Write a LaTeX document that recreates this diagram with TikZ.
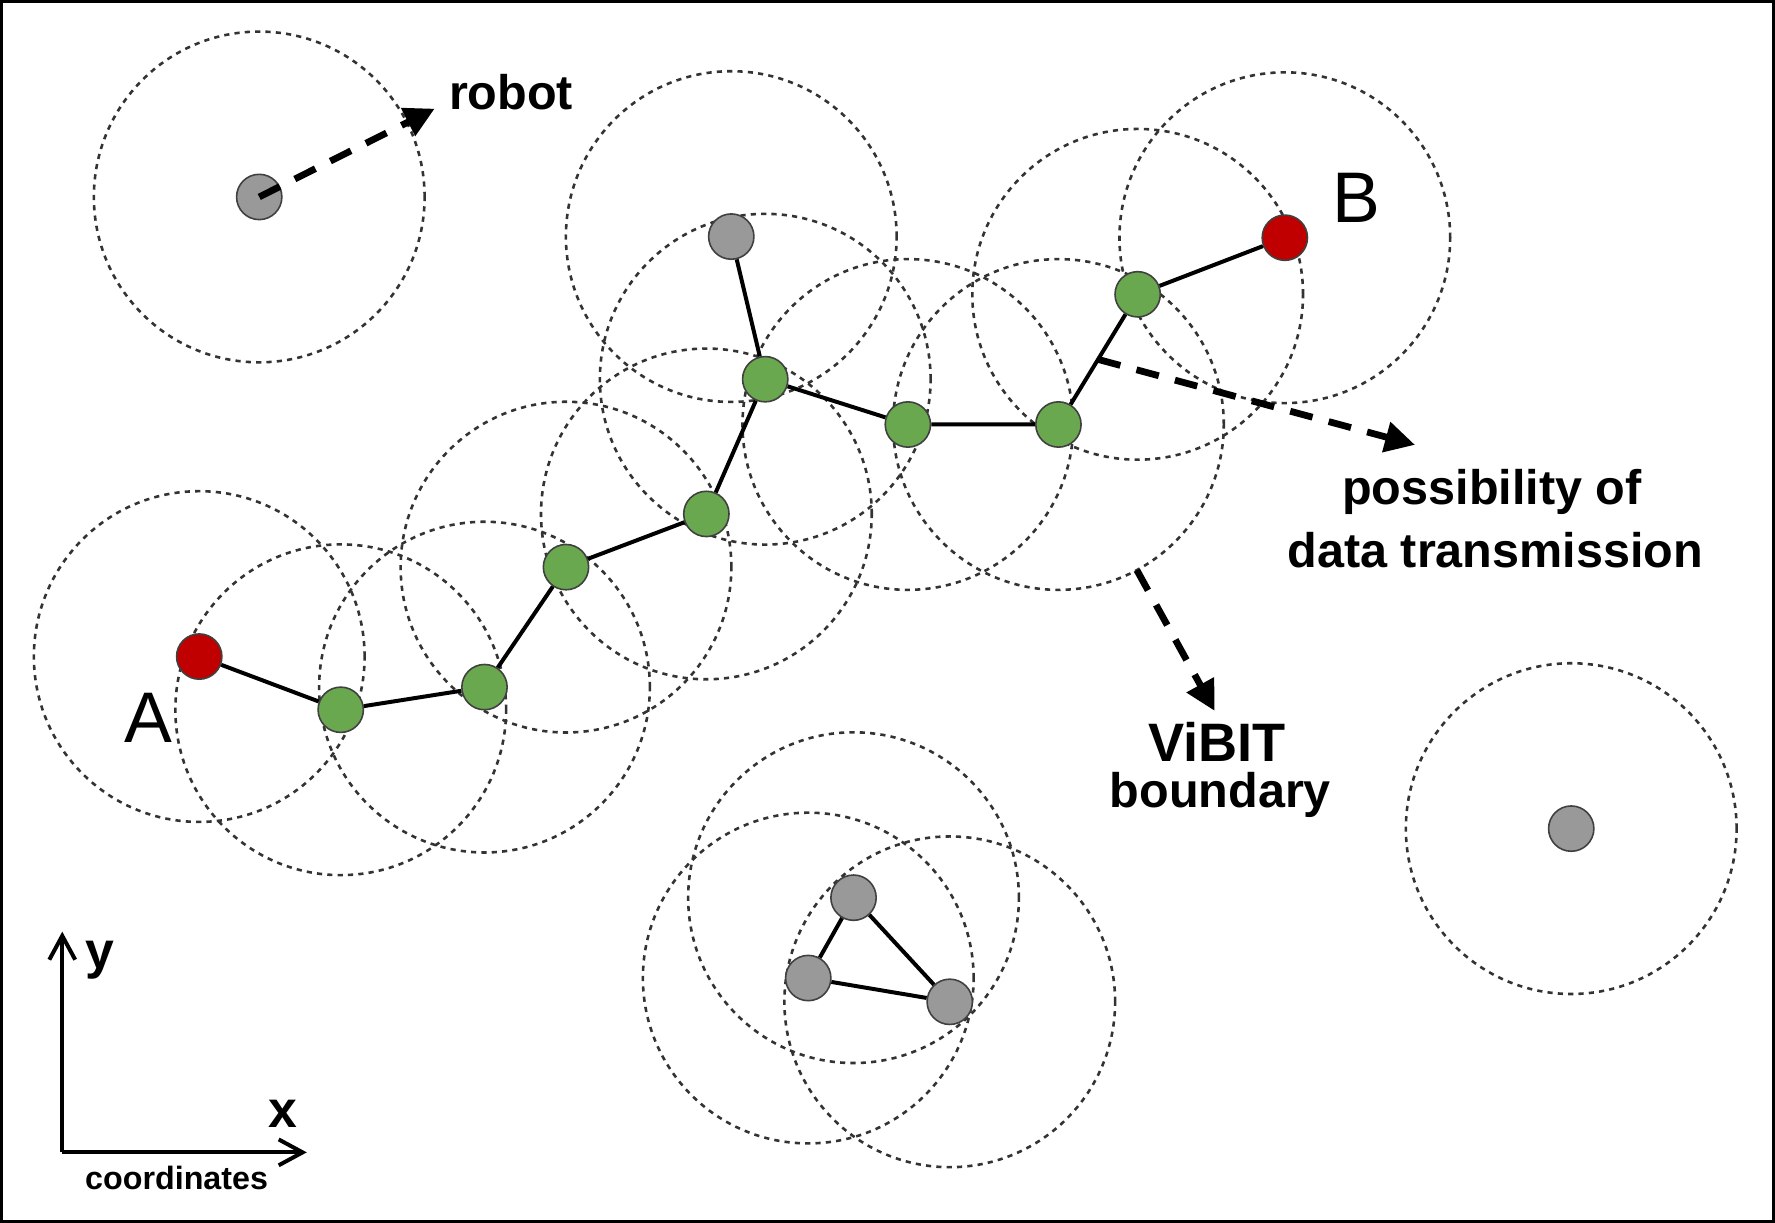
\documentclass[tikz,border=0pt]{standalone}
\usepackage{fontspec}
\setmainfont{Liberation Sans}
\usepackage{xcolor}
\usetikzlibrary{arrows.meta, positioning, calc}
\pgfdeclarelayer{bg}
\pgfsetlayers{bg,main}
\definecolor{relaygreen}{HTML}{6AA84F}
\definecolor{endred}{HTML}{C00000}
\definecolor{idlegray}{HTML}{999999}

\begin{document}
\begin{tikzpicture}[x=0.01cm, y=-0.01cm,
    robot/.style={circle, draw=black!75, line width=0.4pt, minimum size=0.4cm, inner sep=0pt},
    relay/.style={robot, fill=relaygreen},
    endpt/.style={robot, fill=endred},
    idle/.style={robot, fill=idlegray},
    commrange/.style={draw=black!80, line width=0.65pt, dash pattern=on 1.3pt off 1.3pt},
    pathlink/.style={line width=1pt},
    hintarrow/.style={line width=1.7pt, dash pattern=on 5.8pt off 4.2pt, -{Triangle[length=7.5pt, width=7.5pt]}},
    coordaxis/.style={line width=1pt, -{Straight Barb[length=6pt, width=6.5pt]}},
    lbl/.style={font=\bfseries\fontsize{12.2}{14}\selectfont, anchor=base, inner sep=0pt},
]
    \useasboundingbox (0,0) rectangle (1568,1080);
    \draw[line width=0.8pt] (1,1) rectangle (1567,1079);

    % robots forming the path from A to B
    \node[endpt] (a) at (176,580) {};
    \node[relay] (g1) at (301,627) {};
    \node[relay] (g2) at (428,607) {};
    \node[relay] (g3) at (500,501) {};
    \node[relay] (g4) at (624,454) {};
    \node[relay] (g5) at (676,335) {};
    \node[idle]  (top) at (646,209) {};
    \node[relay] (g6) at (802,375) {};
    \node[relay] (g7) at (935,375) {};
    \node[relay] (g8) at (1005,260) {};
    \node[endpt] (b) at (1135,210) {};

    % isolated robots and the small cluster
    \node[idle] (rob) at (229,174) {};
    \node[idle] (far) at (1388,732) {};
    \node[idle] (t1) at (754,793) {};
    \node[idle] (t2) at (714,864) {};
    \node[idle] (t3) at (839,885) {};

    % communication ranges
    \begin{pgfonlayer}{bg}
        \foreach \n in {a,g1,g2,g3,g4,g5,top,g6,g7,g8,b,rob,far,t1,t2,t3}
            \draw[commrange] (\n) circle[radius=1.46cm];
    \end{pgfonlayer}

    % links
    \draw[pathlink] (a) -- (g1) -- (g2) -- (g3) -- (g4) -- (g5) -- (g6) -- (g7) -- (g8) -- (b);
    \draw[pathlink] (top) -- (g5);
    \draw[pathlink] (t1) -- (t2) -- (t3) -- (t1);

    % annotations
    \coordinate (robtip) at (384,96);
    \coordinate (datstart) at ($(g7)!0.5!(g8)$);
    \coordinate (dattip) at (1250,393);
    \coordinate (bndstart) at ($(g7)+(-61.7:1.46cm)$);
    \coordinate (bndtip) at (1073,628);
    \draw[hintarrow] (rob.center) -- (robtip);
    \draw[hintarrow] (datstart) -- (dattip);
    \draw[hintarrow] (bndstart) -- (bndtip);

    \node[lbl, anchor=base west] (robotlbl) at (396,97) {robot};
    \node[lbl] (poss) at (1318,446) {possibility of};
    \node[lbl] (data) at (1321,501) {data transmission};
    \node[lbl, font=\bfseries\fontsize{13.6}{16}\selectfont] (vibit) at (1075,673) {ViBIT};
    \node[lbl] (bound) at (1078,713) {boundary};
    \node[anchor=base, inner sep=0pt, font=\fontsize{18}{20}\selectfont] (albl) at (131,656) {A};
    \node[anchor=base, inner sep=0pt, font=\fontsize{18}{20}\selectfont] (blbl) at (1198,197) {B};

    % coordinate axes
    \coordinate (origin) at (55,1018);
    \coordinate (ytip) at (55,823);
    \coordinate (xtip) at (271,1018);
    \draw[coordaxis] (origin) -- (ytip);
    \draw[coordaxis] (origin) -- (xtip);
    \node[lbl, font=\bfseries\fontsize{13}{15}\selectfont] (ylbl) at (88,856) {y};
    \node[lbl, font=\bfseries\fontsize{13}{15}\selectfont] (xlbl) at (250,996) {x};
    \node[lbl, font=\bfseries\fontsize{8.1}{10}\selectfont] (coord) at (156,1051) {coordinates};
\end{tikzpicture}
\end{document}
